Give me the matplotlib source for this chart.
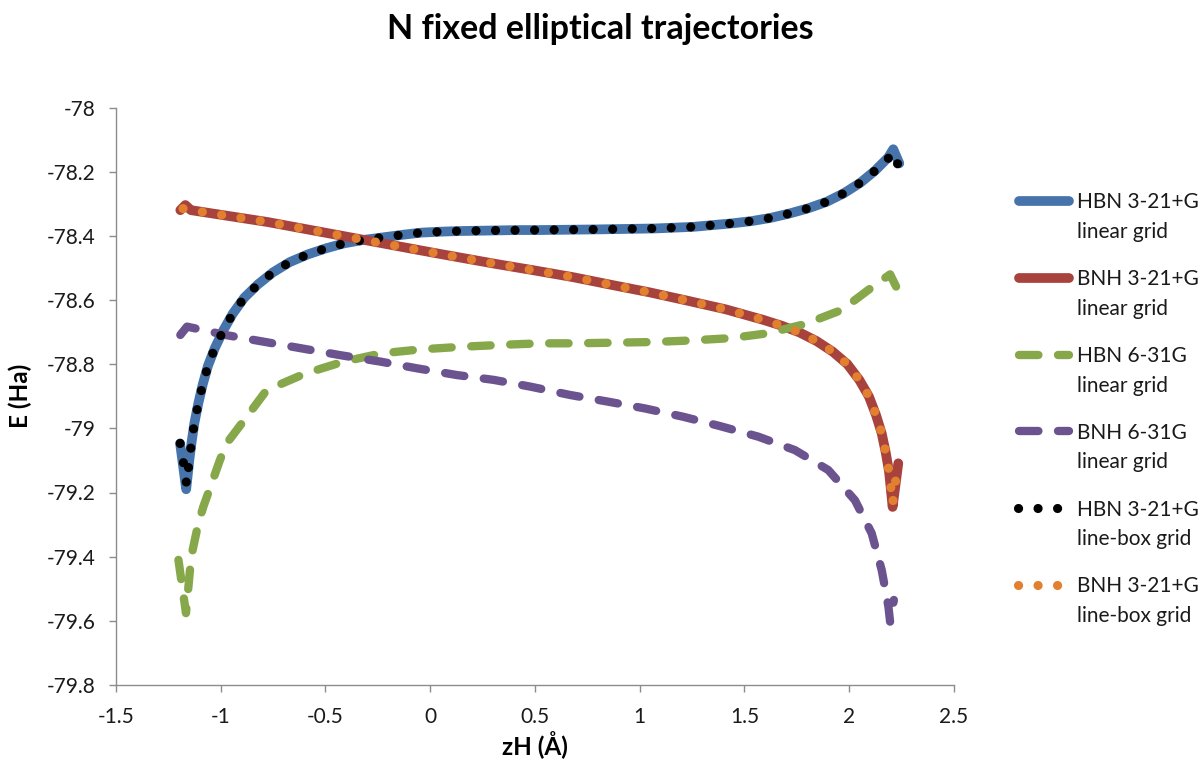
import matplotlib
matplotlib.use("Agg")
import matplotlib.pyplot as plt
from matplotlib.lines import Line2D

plt.rcParams['font.family'] = ['Lato', 'DejaVu Sans']

# ---- data: zH (Angstrom) vs total energy E (Hartree) ----
hbn_321_lin_z = [-1.194, -1.165, -1.150, -1.139, -1.126, -1.107, -1.086, -1.061, -1.029, -0.989,
                 -0.943, -0.888, -0.822, -0.751, -0.671, -0.585, -0.498, -0.408, -0.321, -0.135,
                 -0.043, 0.051, 0.144, 0.239, 0.332, 0.420, 0.516, 0.794, 1.073, 1.256,
                 1.442, 1.534, 1.625, 1.717, 1.805, 1.892, 1.975, 2.054, 2.123, 2.187,
                 2.210, 2.239]
hbn_321_lin_e = [-79.047, -79.190, -79.099, -79.042, -78.984, -78.922, -78.863, -78.805, -78.751, -78.696,
                 -78.643, -78.593, -78.551, -78.514, -78.482, -78.458, -78.439, -78.423, -78.413, -78.397,
                 -78.390, -78.387, -78.385, -78.384, -78.383, -78.382, -78.382, -78.380, -78.377, -78.372,
                 -78.361, -78.354, -78.344, -78.330, -78.314, -78.294, -78.267, -78.234, -78.197, -78.155,
                 -78.130, -78.174]

bnh_321_lin_z = [-1.193, -1.169, -1.142, -0.776, -0.412, -0.140, 0.043, 0.317, 0.499, 0.683,
                 0.866, 1.046, 1.227, 1.410, 1.590, 1.677, 1.762, 1.844, 1.921, 1.991,
                 2.048, 2.094, 2.128, 2.155, 2.174, 2.190, 2.207, 2.234]
bnh_321_lin_e = [-78.320, -78.304, -78.320, -78.357, -78.401, -78.434, -78.456, -78.488, -78.508, -78.529,
                 -78.553, -78.576, -78.602, -78.629, -78.662, -78.680, -78.701, -78.728, -78.761, -78.800,
                 -78.849, -78.901, -78.959, -79.016, -79.075, -79.135, -79.245, -79.109]

hbn_631_lin_z = [-1.202, -1.166, -1.147, -1.134, -1.107, -1.083, -1.043, -1.004, -0.972, -0.876,
                 -0.781, -0.596, -0.413, -0.230, -0.047, 0.144, 0.334, 0.524, 0.691, 0.877,
                 1.062, 1.248, 1.431, 1.609, 1.789, 1.964, 2.123, 2.195, 2.225]
hbn_631_lin_e = [-79.410, -79.576, -79.442, -79.379, -79.296, -79.244, -79.171, -79.099, -79.047, -78.964,
                 -78.881, -78.829, -78.792, -78.766, -78.754, -78.746, -78.740, -78.735, -78.735, -78.733,
                 -78.731, -78.726, -78.719, -78.704, -78.675, -78.631, -78.553, -78.520, -78.560]

bnh_631_lin_z = [-1.193, -1.161, -0.978, -0.795, -0.612, -0.429, -0.238, -0.063, 0.128, 0.303,
                 0.478, 0.667, 0.850, 1.025, 1.208, 1.383, 1.566, 1.741, 1.900, 2.027,
                 2.107, 2.155, 2.187, 2.195, 2.213]
bnh_631_lin_e = [-78.709, -78.683, -78.709, -78.730, -78.751, -78.772, -78.792, -78.813, -78.834, -78.849,
                 -78.870, -78.896, -78.917, -78.938, -78.964, -78.993, -79.026, -79.068, -79.130, -79.224,
                 -79.327, -79.442, -79.556, -79.603, -79.535]

hbn_321_box_z = [-1.194, -1.179, -1.163, -1.150, -1.139, -1.126, -1.107, -1.086, -1.061, -1.029,
                 -0.989, -0.943, -0.888, -0.822, -0.751, -0.671, -0.585, -0.498, -0.408, -0.321,
                 -0.135, -0.043, 0.051, 0.144, 0.239, 0.332, 0.516, 0.794, 1.073, 1.256,
                 1.442, 1.534, 1.625, 1.717, 1.805, 1.892, 1.975, 2.054, 2.123, 2.187,
                 2.205, 2.231]
hbn_321_box_e = [-79.047, -79.104, -79.175, -79.099, -79.042, -78.984, -78.922, -78.863, -78.805, -78.751,
                 -78.696, -78.643, -78.593, -78.551, -78.514, -78.482, -78.458, -78.439, -78.423, -78.413,
                 -78.397, -78.390, -78.387, -78.385, -78.384, -78.383, -78.382, -78.380, -78.377, -78.372,
                 -78.361, -78.354, -78.344, -78.330, -78.314, -78.294, -78.267, -78.234, -78.197, -78.158,
                 -78.140, -78.176]

bnh_321_box_z = [-1.180, -1.142, -0.776, -0.412, -0.140, 0.043, 0.317, 0.499, 0.683, 0.866,
                 1.046, 1.227, 1.410, 1.590, 1.677, 1.762, 1.844, 1.921, 1.991, 2.048,
                 2.094, 2.128, 2.155, 2.174, 2.190, 2.207, 2.232]
bnh_321_box_e = [-78.315, -78.320, -78.357, -78.401, -78.434, -78.456, -78.488, -78.508, -78.529, -78.553,
                 -78.576, -78.602, -78.629, -78.662, -78.680, -78.701, -78.728, -78.761, -78.800, -78.849,
                 -78.901, -78.959, -79.016, -79.075, -79.135, -79.235, -79.110]

labels = ["HBN 3-21+G\nlinear grid", "BNH 3-21+G\nlinear grid", "HBN 6-31G\nlinear grid",
          "BNH 6-31G\nlinear grid", "HBN 3-21+G\nline-box grid", "BNH 3-21+G\nline-box grid"]

x_ticks = [-1.5, -1, -0.5, 0, 0.5, 1, 1.5, 2, 2.5]
x_tick_labels = ["-1.5", "-1", "-0.5", "0", "0.5", "1", "1.5", "2", "2.5"]
y_ticks = [-79.8, -79.6, -79.4, -79.2, -79, -78.8, -78.6, -78.4, -78.2, -78]
y_tick_labels = ["-79.8", "-79.6", "-79.4", "-79.2", "-79", "-78.8", "-78.6", "-78.4", "-78.2", "-78"]

# ---- styles ----
W, H = 1201, 765
SOLID = dict(lw=7.0, linestyle='-', solid_capstyle='round', solid_joinstyle='round')
DASH = dict(lw=6.0, linestyle=(0, (2.33, 2.35)), dash_capstyle='round', dash_joinstyle='round')
DOT = dict(lw=6.6, linestyle=(0, (0.01, 2.12)), dash_capstyle='round', dash_joinstyle='round')

series = [
    (hbn_321_lin_z, hbn_321_lin_e, '#4674AA', SOLID),
    (bnh_321_lin_z, bnh_321_lin_e, '#A7423D', SOLID),
    (hbn_631_lin_z, hbn_631_lin_e, '#86A84A', DASH),
    (bnh_631_lin_z, bnh_631_lin_e, '#6B538F', DASH),
    (hbn_321_box_z, hbn_321_box_e, '#000000', DOT),
    (bnh_321_box_z, bnh_321_box_e, '#E2802F', DOT),
]

fig = plt.figure(figsize=(W / 100, H / 100), dpi=100)
ax = fig.add_axes([116 / W, 1 - 685 / H, (954 - 116) / W, (685 - 107.5) / H])

for z, e, color, style in series:
    ax.plot(z, e, color=color, **style)

ax.set_xlim(-1.5, 2.5)
ax.set_ylim(-79.8, -78)
ax.set_xticks(x_ticks)
ax.set_xticklabels(x_tick_labels)
ax.set_yticks(y_ticks)
ax.set_yticklabels(y_tick_labels)

for side in ('top', 'right'):
    ax.spines[side].set_visible(False)
for side in ('left', 'bottom'):
    ax.spines[side].set_color('#8C8C8C')
    ax.spines[side].set_linewidth(1.0)
ax.tick_params(axis='both', direction='out', length=5, width=1.0, color='#8C8C8C',
               labelsize=15, labelcolor='#1A1A1A')
ax.tick_params(axis='y', pad=10)
ax.tick_params(axis='x', pad=11)

ax.set_xlabel("zH (Å)", fontsize=17.5, fontweight='bold', labelpad=3)
ax.set_ylabel("E (Ha)", fontsize=17.5, fontweight='bold', labelpad=10)
fig.text(0.5, 1 - 29 / H, "N fixed elliptical trajectories", ha='center', va='center',
         fontsize=24.5, fontweight='bold')

# ---- legend at the right, handle level with the first text line ----
leg_x0, leg_x1, leg_text_x = 1019, 1069, 1077
leg_y0, leg_dy, line_gap = 201, 76.8, 29.5


def fx(px):
    return px / W


def fy(py):
    return 1 - py / H


for i, (label, (_, _, color, style)) in enumerate(zip(labels, series)):
    y = leg_y0 + i * leg_dy
    x0 = leg_x0 if style is not DOT else 1018
    x1 = leg_x1 if style is not DOT else 1060
    fig.add_artist(Line2D([fx(x0), fx(x1)], [fy(y), fy(y)], transform=fig.transFigure,
                          color=color, **style))
    first, second = label.split("\n")
    fig.text(fx(leg_text_x), fy(y + 7.5), first, ha='left', va='baseline', fontsize=15, color='#1A1A1A')
    fig.text(fx(leg_text_x), fy(y + 7.5 + line_gap), second, ha='left', va='baseline', fontsize=15,
             color='#1A1A1A')

fig.savefig("out.png", dpi=100)
